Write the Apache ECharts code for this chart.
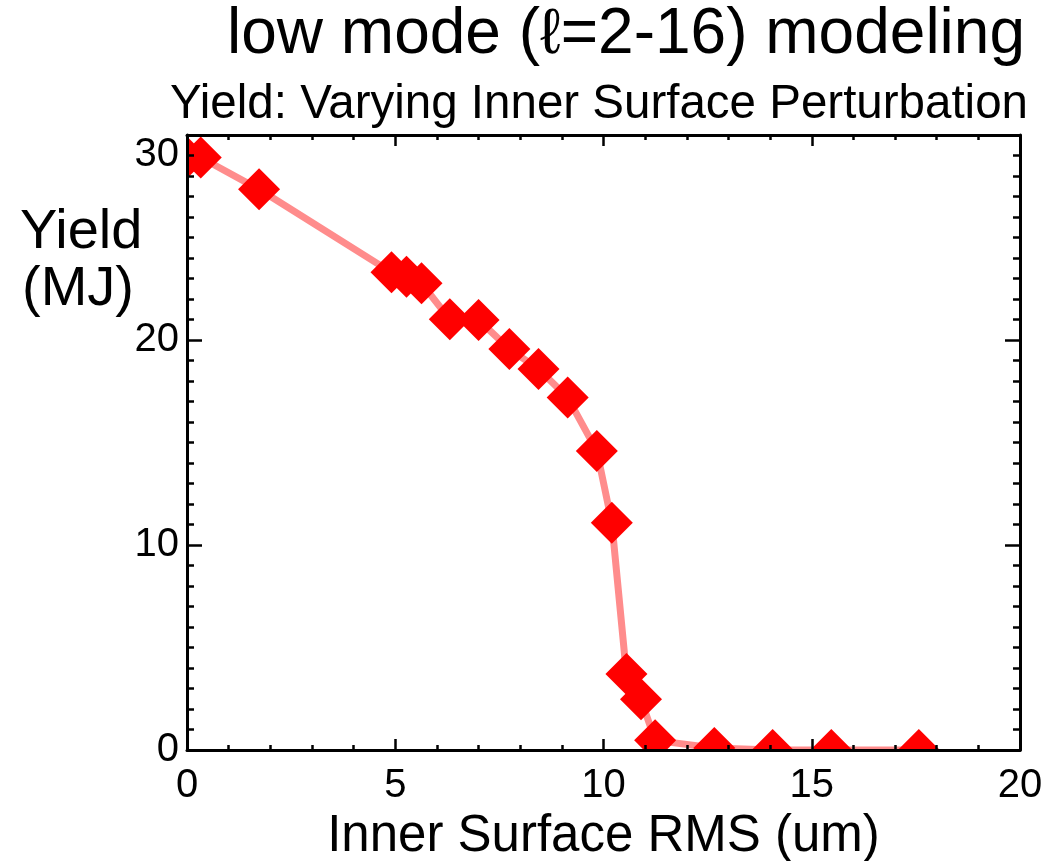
<!DOCTYPE html>
<html>
<head>
<meta charset="utf-8">
<script src="https://cdn.jsdelivr.net/npm/echarts@6/dist/echarts.min.js"></script>
<style>
html,body{margin:0;padding:0;background:#fff;}
#chart{width:1045px;height:861px;}
</style>
</head>
<body>
<div id="chart"></div>
<script>
// ---- data ----
const rmsValues = [0, 0.33, 1.73, 4.91, 5.27, 5.63, 6.31, 7.0, 7.74, 8.44, 9.14, 9.84, 10.20, 10.55, 10.90, 11.24, 12.66, 14.06, 15.47, 17.57];
const yieldValues = [28.9, 28.9, 27.35, 23.30, 23.09, 22.77, 21.01, 20.98, 19.56, 18.59, 17.19, 14.59, 11.09, 3.71, 2.47, 0.47, 0.1, 0, 0, 0];
const xTickValues = [0, 5, 10, 15, 20];
const yTickValues = [0, 10, 20, 30];
const titleText = 'low mode (\u2113=2-16) modeling';
const subtitleText = 'Yield: Varying Inner Surface Perturbation';
const xAxisTitle = 'Inner Surface RMS (um)';
const yAxisTitleLines = ['Yield', '(MJ)'];

const FONT = '"Liberation Sans", Arial, Helvetica, sans-serif';
const points = rmsValues.map((x, i) => [x, yieldValues[i]]);

const chart = echarts.init(document.getElementById('chart'), null, {renderer: 'canvas'});

function axisCommon(isX, showLabel, position) {
  const lbl = {
    show: showLabel,
    color: '#000',
    fontFamily: FONT,
    fontSize: 40,
    margin: isX ? 16 : 8
  };
  if (!isX) lbl.verticalAlignMaxLabel = 'top';
  return {
    type: 'value',
    position: position,
    min: isX ? xTickValues[0] : yTickValues[0],
    max: isX ? xTickValues[xTickValues.length - 1] : yTickValues[yTickValues.length - 1],
    interval: isX ? 5 : 10,
    z: 10,
    axisLine: {show: true, onZero: false, lineStyle: {color: '#000', width: 3}},
    axisTick: {show: true, inside: true, length: isX ? 11 : 15, lineStyle: {color: '#000', width: 2.5}},
    minorTick: {show: true, splitNumber: isX ? 5 : 10, length: isX ? 5 : 7, lineStyle: {color: '#000', width: 2.5}},
    splitLine: {show: false},
    minorSplitLine: {show: false},
    axisLabel: lbl
  };
}

const xBottom = axisCommon(true, true, 'bottom');
xBottom.name = xAxisTitle;
xBottom.nameLocation = 'middle';
xBottom.nameGap = 61;
xBottom.nameTextStyle = {color: '#000', fontFamily: FONT, fontSize: 51};

const option = {
  animation: false,
  backgroundColor: '#fff',
  title: [
    {text: titleText, right: 20, top: 3, padding: 0,
     textStyle: {color: '#000', fontFamily: FONT, fontSize: 64, fontWeight: 'normal'}},
    {text: subtitleText, right: 17, top: 81, padding: 0,
     textStyle: {color: '#000', fontFamily: FONT, fontSize: 47.5, fontWeight: 'normal'}}
  ],
  graphic: [
    {type: 'text', left: 20, top: 205, style: {text: yAxisTitleLines[0], font: '56px ' + FONT, fill: '#000'}},
    {type: 'text', left: 22, top: 262, style: {text: yAxisTitleLines[1], font: '56px ' + FONT, fill: '#000'}}
  ],
  grid: {left: 187, right: 25, top: 135, bottom: 111, containLabel: false, outerBoundsMode: 'none'},
  xAxis: [xBottom, axisCommon(true, false, 'top')],
  yAxis: [axisCommon(false, true, 'left'), axisCommon(false, false, 'right')],
  series: [
    {
      type: 'custom',
      name: 'line',
      xAxisIndex: 0, yAxisIndex: 0,
      clip: true,
      z: 2,
      data: points,
      renderItem: function (params, api) {
        if (params.dataIndex !== 0) return null;
        const pts = points.map(p => api.coord(p));
        return {
          type: 'polyline',
          shape: {points: pts},
          style: {stroke: '#ff8c8c', lineWidth: 7, fill: null, lineJoin: 'round', lineCap: 'round'}
        };
      }
    },
    {
      type: 'custom',
      name: 'markers',
      xAxisIndex: 0, yAxisIndex: 0,
      clip: true,
      z: 3,
      data: points,
      renderItem: function (params, api) {
        const c = api.coord([api.value(0), api.value(1)]);
        const h = 21;
        return {
          type: 'polygon',
          shape: {points: [[c[0], c[1] - h], [c[0] + h, c[1]], [c[0], c[1] + h], [c[0] - h, c[1]]]},
          style: {fill: '#ff0000', stroke: null}
        };
      }
    }
  ]
};
chart.setOption(option);
</script>
</body>
</html>
